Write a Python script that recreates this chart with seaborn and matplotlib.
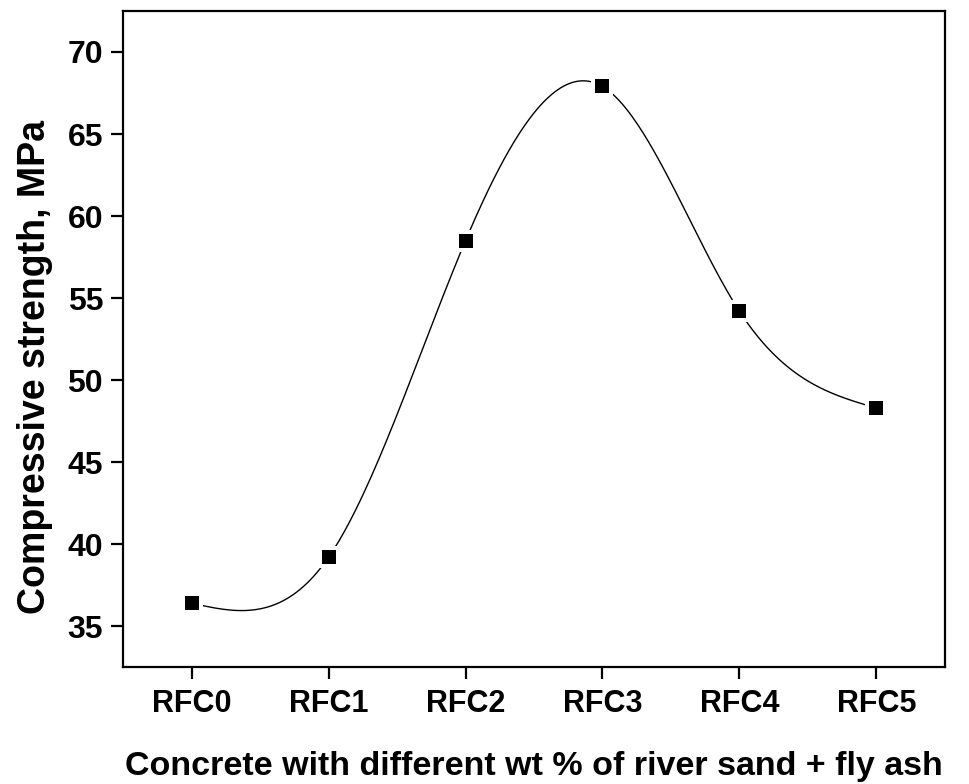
import matplotlib
matplotlib.use("Agg")
import matplotlib.pyplot as plt
import numpy as np
import pandas as pd
import seaborn as sns

# Data
mixes = ["RFC0", "RFC1", "RFC2", "RFC3", "RFC4", "RFC5"]
strength = [36.4, 39.2, 58.5, 67.9, 54.2, 48.3]


def natural_spline(x, y, n=400):
    # natural cubic spline through the points, used only for the smooth line
    x = np.asarray(x, float)
    y = np.asarray(y, float)
    k = len(x)
    h = np.diff(x)
    A = np.zeros((k, k))
    b = np.zeros(k)
    A[0, 0] = A[-1, -1] = 1.0
    for i in range(1, k - 1):
        A[i, i - 1] = h[i - 1]
        A[i, i] = 2 * (h[i - 1] + h[i])
        A[i, i + 1] = h[i]
        b[i] = 3 * ((y[i + 1] - y[i]) / h[i] - (y[i] - y[i - 1]) / h[i - 1])
    c = np.linalg.solve(A, b)
    xs = np.linspace(x[0], x[-1], n)
    ys = np.empty_like(xs)
    for j, xv in enumerate(xs):
        i = min(np.searchsorted(x, xv, side="right") - 1, k - 2)
        d = xv - x[i]
        bi = (y[i + 1] - y[i]) / h[i] - h[i] * (2 * c[i] + c[i + 1]) / 3
        di = (c[i + 1] - c[i]) / (3 * h[i])
        ys[j] = y[i] + bi * d + c[i] * d ** 2 + di * d ** 3
    return xs, ys


def main():
    df = pd.DataFrame({"pos": np.arange(len(mixes)), "strength": strength})

    sns.set_style("ticks")
    plt.rcParams["font.family"] = ["Liberation Sans", "DejaVu Sans"]
    plt.rcParams["font.weight"] = "bold"
    for key in ["text.color", "axes.labelcolor", "xtick.color", "ytick.color", "axes.edgecolor"]:
        plt.rcParams[key] = "black"

    fig, ax = plt.subplots(figsize=(9.7, 7.84), dpi=100)
    fig.subplots_adjust(left=0.127, right=0.974, top=0.986, bottom=0.149)

    xs, ys = natural_spline(df["pos"], df["strength"])
    ax.plot(xs, ys, color="black", linewidth=1.0, zorder=2)

    # white halo so the curve stops short of each marker
    sns.scatterplot(data=df, x="pos", y="strength", marker="s", s=240,
                    color="white", linewidth=0, zorder=3, ax=ax, legend=False)
    sns.scatterplot(data=df, x="pos", y="strength", marker="s", s=88,
                    color="black", linewidth=0, zorder=4, ax=ax, legend=False)

    ax.set_xlim(-0.5, 5.5)
    ax.set_ylim(32.5, 72.5)
    ax.set_xticks(range(len(mixes)))
    ax.set_xticklabels(mixes)
    ax.set_yticks(range(35, 71, 5))

    ax.set_xlabel("Concrete with different wt % of river sand + fly ash",
                  fontsize=24.5, fontweight="bold")
    ax.set_ylabel("Compressive strength, MPa", fontsize=27, fontweight="bold")
    ax.xaxis.set_label_coords(0.5, -0.127)
    ax.yaxis.set_label_coords(-0.086, 0.457)

    ax.tick_params(axis="both", width=1.6, length=8.5, direction="out")
    ax.tick_params(axis="x", labelsize=22, pad=7)
    ax.tick_params(axis="y", labelsize=23, pad=6)
    for lab in ax.get_xticklabels() + ax.get_yticklabels():
        lab.set_fontweight("bold")
    for sp in ax.spines.values():
        sp.set_visible(True)
        sp.set_linewidth(1.6)

    plt.savefig("out.png", dpi=100)
    plt.close()


if __name__ == "__main__":
    main()
